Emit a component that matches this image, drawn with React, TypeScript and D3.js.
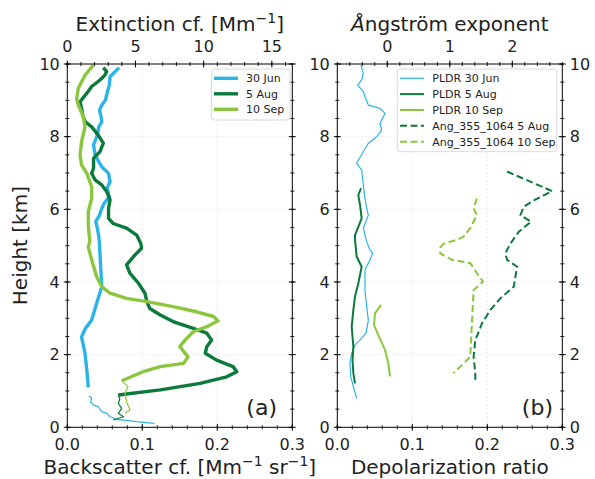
import React from 'react';
import * as d3 from 'd3';

// ---------- data (height km, value) ----------
const jun30Bsc: [number, number][] = [
  [9.90, 0.069], [9.65, 0.057], [9.42, 0.056], [9.19, 0.053], [9.01, 0.051], [8.87, 0.046],
  [8.73, 0.043], [8.55, 0.045], [8.41, 0.046], [8.27, 0.042], [8.05, 0.040], [7.77, 0.035],
  [7.50, 0.037], [7.31, 0.042], [7.17, 0.046], [6.99, 0.055], [6.76, 0.057], [6.58, 0.053],
  [6.35, 0.056], [6.16, 0.049], [6.03, 0.046], [5.84, 0.043], [5.66, 0.038], [5.48, 0.040],
  [5.25, 0.042], [5.02, 0.043], [4.60, 0.044], [3.87, 0.046], [3.41, 0.039], [2.95, 0.0325],
  [2.72, 0.024], [2.49, 0.019], [2.04, 0.0236], [1.58, 0.026], [1.10, 0.028],
];
const jun30BscNear: [number, number][] = [
  [0.86, 0.029], [0.80, 0.0325], [0.70, 0.031], [0.61, 0.035], [0.57, 0.041], [0.43, 0.046],
  [0.385, 0.0525], [0.29, 0.057], [0.22, 0.066], [0.155, 0.0925], [0.11, 0.116],
];
const aug5Bsc: [number, number][] = [
  [9.90, 0.048], [9.79, 0.0525], [9.69, 0.050], [9.56, 0.0436], [9.38, 0.0325], [9.19, 0.0258],
  [8.96, 0.017], [8.78, 0.019], [8.55, 0.021], [8.41, 0.024], [8.27, 0.0325], [8.05, 0.041],
  [7.82, 0.048], [7.59, 0.0436], [7.40, 0.035], [7.13, 0.035], [6.99, 0.0325], [6.81, 0.037],
  [6.67, 0.046], [6.49, 0.0525], [6.26, 0.057], [6.03, 0.055], [5.75, 0.055], [5.61, 0.061],
  [5.48, 0.079], [5.29, 0.0925], [5.06, 0.098], [4.93, 0.099], [4.74, 0.090], [4.47, 0.079],
  [4.24, 0.0836], [3.96, 0.095], [3.69, 0.1036], [3.46, 0.106], [3.27, 0.110], [3.09, 0.124],
  [2.91, 0.141], [2.72, 0.168], [2.59, 0.186], [2.40, 0.1925], [2.22, 0.186], [2.04, 0.184],
  [1.85, 0.199], [1.67, 0.221], [1.53, 0.226], [1.39, 0.2125], [1.21, 0.177], [1.03, 0.124],
  [0.89, 0.068],
];
const aug5BscNear: [number, number][] = [
  [0.89, 0.068], [0.77, 0.070], [0.66, 0.068], [0.52, 0.0725], [0.385, 0.068], [0.29, 0.075],
  [0.20, 0.061],
];
const sep10Bsc: [number, number][] = [
  [9.97, 0.0347], [9.69, 0.0236], [9.33, 0.0147], [9.05, 0.0125], [8.87, 0.0147], [8.55, 0.0214],
  [8.27, 0.0236], [7.86, 0.019], [7.50, 0.017], [7.22, 0.019], [6.99, 0.026], [6.62, 0.0325],
  [6.30, 0.0325], [5.94, 0.028], [5.57, 0.028], [5.11, 0.030], [4.97, 0.028], [4.61, 0.0325],
  [4.15, 0.039], [3.87, 0.046], [3.69, 0.057], [3.55, 0.079], [3.46, 0.106], [3.32, 0.141],
  [3.18, 0.1725], [3.05, 0.195], [2.93, 0.201], [2.77, 0.186], [2.63, 0.168], [2.40, 0.157],
  [2.22, 0.150], [1.94, 0.161], [1.76, 0.155], [1.67, 0.124], [1.53, 0.101], [1.28, 0.0725],
];
const sep10BscNear: [number, number][] = [
  [1.28, 0.0725], [1.12, 0.081], [0.94, 0.077], [0.70, 0.079], [0.48, 0.0836], [0.385, 0.077],
];

const pldrJun30: [number, number][] = [
  [9.97, 0.0316], [9.74, 0.0347], [9.56, 0.0325], [9.42, 0.0272], [9.24, 0.0347], [9.10, 0.0369],
  [8.87, 0.0414], [8.78, 0.0569], [8.64, 0.0636], [8.36, 0.0569], [8.18, 0.0592], [8.00, 0.0525],
  [7.82, 0.0414], [7.59, 0.0347], [7.27, 0.0258], [7.08, 0.0325], [6.67, 0.0347], [6.30, 0.0369],
  [6.03, 0.0392], [5.84, 0.0414], [5.48, 0.0347], [5.11, 0.0392], [4.88, 0.0436], [4.79, 0.0472],
  [4.61, 0.0436], [4.33, 0.0369], [3.78, 0.0369], [3.32, 0.0392], [2.95, 0.0414], [2.59, 0.0383],
  [2.40, 0.0303], [2.27, 0.0236], [2.04, 0.0192], [1.76, 0.0169], [1.40, 0.0178], [1.12, 0.0214],
  [0.80, 0.0258],
];
const pldrAug5: [number, number][] = [
  [6.58, 0.0316], [6.39, 0.028], [6.12, 0.0303], [5.75, 0.0325], [5.52, 0.028], [5.29, 0.0236],
  [5.16, 0.0236], [4.70, 0.0258], [4.42, 0.0325], [3.96, 0.028], [3.60, 0.0236], [3.23, 0.0214],
  [2.77, 0.0192], [2.22, 0.0214], [1.85, 0.0203], [1.49, 0.0214], [1.21, 0.0236],
];
const pldrSep10: [number, number][] = [
  [3.37, 0.0583], [3.14, 0.0503], [2.82, 0.0489], [2.54, 0.0547], [2.13, 0.0636], [1.76, 0.068],
  [1.40, 0.0703],
];
const angAug5: [number, number][] = [
  [7.04, 1.916], [6.72, 2.344], [6.50, 2.638], [6.27, 2.371], [6.07, 2.183], [5.84, 2.130],
  [5.66, 2.301], [5.38, 2.103], [5.06, 1.970], [4.79, 1.889], [4.61, 1.916], [4.42, 2.077],
  [3.87, 2.023], [3.55, 1.809], [3.23, 1.649], [2.86, 1.515], [2.40, 1.408], [1.94, 1.381],
  [1.49, 1.408], [1.21, 1.408],
];
const angSep10: [number, number][] = [
  [6.30, 1.434], [6.03, 1.381], [5.84, 1.434], [5.48, 1.327], [5.25, 1.220], [5.16, 1.113],
  [5.05, 0.90], [4.95, 0.85], [4.79, 0.846], [4.61, 1.033], [4.52, 1.327], [4.24, 1.434],
  [4.01, 1.531], [3.78, 1.381], [2.86, 1.354], [1.94, 1.327], [1.49, 1.060],
];

const heightTicks = [0, 2, 4, 6, 8, 10];
const bscTicks = [0, 0.1, 0.2, 0.3];
const extTicks = [0, 5, 10, 15];
const angTicks = [0, 1, 2];
const depTicks = [0, 0.1, 0.2, 0.3];
const legendLeft = ['30 Jun', '5 Aug', '10 Sep'];
const legendRight = ['PLDR 30 Jun', 'PLDR 5 Aug', 'PLDR 10 Sep', 'Ang_355_1064 5 Aug', 'Ang_355_1064 10 Sep'];

// ---------- layout ----------
const C_JUN = '#2cb4e6';
const C_AUG = '#0c7a3c';
const C_SEP = '#8cc63f';
const TXT = '#222';
const FONT = 'DejaVu Sans, sans-serif';

const Y0 = 427.3, Y1 = 64;
const L0 = 67.3, L1 = 292.3, R0 = 337.3, R1 = 562.3;

const yS = d3.scaleLinear().domain([0, 10]).range([Y0, Y1]);
const bscX = d3.scaleLinear().domain([0, 0.3]).range([L0, L1]);
const extX = d3.scaleLinear().domain([0, 16.5]).range([L0, L1]);
const depX = d3.scaleLinear().domain([0, 0.3]).range([R0, R1]);
const angX = d3.scaleLinear().domain([-0.8, 2.8]).range([R0, R1]);

const mkLine = (xs: d3.ScaleLinear<number, number>) =>
  d3.line<[number, number]>().x(d => xs(d[1])).y(d => yS(d[0]));

const range = (a: number, b: number, s: number) => {
  const out: number[] = [];
  for (let i = 0; a + i * s <= b + 1e-9; i++) out.push(+(a + i * s).toFixed(6));
  return out;
};

function HTicks({ xs, vals, y, len }: { xs: (v: number) => number; vals: number[]; y: number; len: number }) {
  return <g>{vals.map((v, i) => <line key={i} x1={xs(v)} x2={xs(v)} y1={y - len} y2={y + len} stroke="#000" strokeWidth={0.9} />)}</g>;
}
function VTicks({ x, vals, len }: { x: number; vals: number[]; len: number }) {
  return <g>{vals.map((v, i) => <line key={i} x1={x - len} x2={x + len} y1={yS(v)} y2={yS(v)} stroke="#000" strokeWidth={0.9} />)}</g>;
}

export default function App() {
  const yMinor = range(0, 10, 0.5);
  const bscMinor = range(0, 0.3, 0.02);
  const extMinor = range(0, 16, 1);
  const angMinor = range(-0.8, 2.8, 0.2);
  const lb = mkLine(bscX), ld = mkLine(depX), la = mkLine(angX);

  const grid = (x0: number, x1: number, xs: d3.ScaleLinear<number, number>) => (
    <g stroke="#e6e6e6" strokeWidth={0.8} strokeDasharray="2,2">
      {[2, 4, 6, 8].map(h => <line key={'h' + h} x1={x0} x2={x1} y1={yS(h)} y2={yS(h)} />)}
      {[0.1, 0.2].map(v => <line key={'v' + v} x1={xs(v)} x2={xs(v)} y1={Y1} y2={Y0} />)}
    </g>
  );

  const frame = (x0: number, x1: number) => (
    <rect x={x0} y={Y1} width={x1 - x0} height={Y0 - Y1} fill="none" stroke="#000" strokeWidth={1} />
  );

  const sup = (s: string) => <tspan fontSize={14} dy={-8}>{s}</tspan>;

  return (
    <svg width={595} height={479} style={{ position: 'absolute', left: 0, top: 0, background: '#fff' }} fontFamily={FONT}>
      <rect x={0} y={0} width={595} height={479} fill="#fff" />
      {grid(L0, L1, bscX)}
      {grid(R0, R1, depX)}

      {/* left panel lines */}
      <g fill="none" strokeLinejoin="round" strokeLinecap="butt">
        <path d={lb(jun30Bsc)!} stroke={C_JUN} strokeWidth={3.4} />
        <path d={lb(jun30BscNear)!} stroke={C_JUN} strokeWidth={1.2} />
        <path d={lb(aug5Bsc)!} stroke={C_AUG} strokeWidth={3.4} />
        <path d={lb(aug5BscNear)!} stroke={C_AUG} strokeWidth={1.2} />
        <path d={lb(sep10Bsc)!} stroke={C_SEP} strokeWidth={3.4} />
        <path d={lb(sep10BscNear)!} stroke={C_SEP} strokeWidth={1.2} />
      </g>

      {/* right panel lines */}
      <g fill="none" strokeLinejoin="round">
        <path d={ld(pldrJun30)!} stroke={C_JUN} strokeWidth={1.2} />
        <path d={ld(pldrAug5)!} stroke={C_AUG} strokeWidth={2} />
        <path d={ld(pldrSep10)!} stroke={C_SEP} strokeWidth={2} />
        <path d={la(angAug5)!} stroke={C_AUG} strokeWidth={2} strokeDasharray="7,3.5" />
        <path d={la(angSep10)!} stroke={C_SEP} strokeWidth={2} strokeDasharray="7,3.5" />
      </g>

      {frame(L0, L1)}
      {frame(R0, R1)}

      {/* ticks */}
      <HTicks xs={bscX} vals={bscTicks} y={Y0} len={3.5} />
      <HTicks xs={bscX} vals={bscMinor} y={Y0} len={2} />
      <HTicks xs={extX} vals={extTicks} y={Y1} len={3.5} />
      <HTicks xs={extX} vals={extMinor} y={Y1} len={2} />
      <HTicks xs={depX} vals={depTicks} y={Y0} len={3.5} />
      <HTicks xs={depX} vals={bscMinor} y={Y0} len={2} />
      <HTicks xs={angX} vals={angTicks} y={Y1} len={3.5} />
      <HTicks xs={angX} vals={angMinor} y={Y1} len={2} />
      {[L0, L1, R0, R1].map((x, i) => (
        <g key={i}>
          <VTicks x={x} vals={heightTicks} len={3.5} />
          <VTicks x={x} vals={yMinor} len={2} />
        </g>
      ))}

      {/* tick labels */}
      <g fontSize={16} fill={TXT}>
        {heightTicks.map(h => <text key={'l' + h} x={L0 - 7.5} y={yS(h) + 5.8} textAnchor="end">{h}</text>)}
        {heightTicks.map(h => <text key={'r' + h} x={R0 - 7.5} y={yS(h) + 5.8} textAnchor="end">{h}</text>)}
        {heightTicks.map(h => <text key={'rr' + h} x={R1 + 7.5} y={yS(h) + 5.8} textAnchor="start">{h}</text>)}
        {bscTicks.map(v => <text key={'b' + v} x={bscX(v)} y={450} textAnchor="middle">{v.toFixed(1)}</text>)}
        {depTicks.map(v => <text key={'d' + v} x={depX(v)} y={450} textAnchor="middle">{v.toFixed(1)}</text>)}
        {extTicks.map(v => <text key={'e' + v} x={extX(v)} y={52} textAnchor="middle">{v}</text>)}
        {angTicks.map(v => <text key={'a' + v} x={angX(v)} y={52} textAnchor="middle">{v}</text>)}
      </g>

      {/* axis titles */}
      <g fontSize={20} fill={TXT}>
        <text x={(L0 + L1) / 2} y={474} textAnchor="middle">
          Backscatter cf. [Mm{sup('−1')}<tspan dy={8}> sr</tspan>{sup('−1')}<tspan dy={8}>]</tspan>
        </text>
        <text x={(R0 + R1) / 2} y={474} textAnchor="middle">Depolarization ratio</text>
        <text x={(L0 + L1) / 2} y={31} textAnchor="middle">
          Extinction cf. [Mm{sup('−1')}<tspan dy={8}>]</tspan>
        </text>
        <text x={(R0 + R1) / 2} y={31} textAnchor="middle">
          <tspan fontStyle="italic">Å</tspan>ngström exponent
        </text>
        <text transform={`translate(27,${(Y0 + Y1) / 2}) rotate(-90)`} textAnchor="middle">Height [km]</text>
      </g>

      {/* panel labels */}
      <text x={277} y={415} fontSize={22} textAnchor="end" fill={TXT}>(a)</text>
      <text x={553} y={415} fontSize={22} textAnchor="end" fill={TXT}>(b)</text>

      {/* legend left */}
      <g fontSize={11} fill={TXT}>
        <rect x={211.5} y={69} width={78.5} height={51} rx={3} fill="#fff" fillOpacity={0.85} stroke="#cfcfcf" strokeWidth={0.8} />
        {legendLeft.map((t, i) => {
          const y = 78.3 + i * 15.5;
          const c = [C_JUN, C_AUG, C_SEP][i];
          return (
            <g key={t}>
              <line x1={214} x2={238} y1={y} y2={y} stroke={c} strokeWidth={3.4} />
              <text x={246} y={y + 4}>{t}</text>
            </g>
          );
        })}
      </g>

      {/* legend right */}
      <g fontSize={11} fill={TXT}>
        <rect x={397.3} y={69} width={159.4} height={82.7} rx={3} fill="#fff" fillOpacity={0.85} stroke="#cfcfcf" strokeWidth={0.8} />
        {legendRight.map((t, i) => {
          const y = 78.3 + i * 15.85;
          const c = [C_JUN, C_AUG, C_SEP, C_AUG, C_SEP][i];
          const w = [1.2, 2, 2, 2, 2][i];
          const dash = i >= 3 ? '7,3.5' : undefined;
          return (
            <g key={t}>
              <line x1={400} x2={424} y1={y} y2={y} stroke={c} strokeWidth={w} strokeDasharray={dash} />
              <text x={432.3} y={y + 4}>{t}</text>
            </g>
          );
        })}
      </g>
    </svg>
  );
}
